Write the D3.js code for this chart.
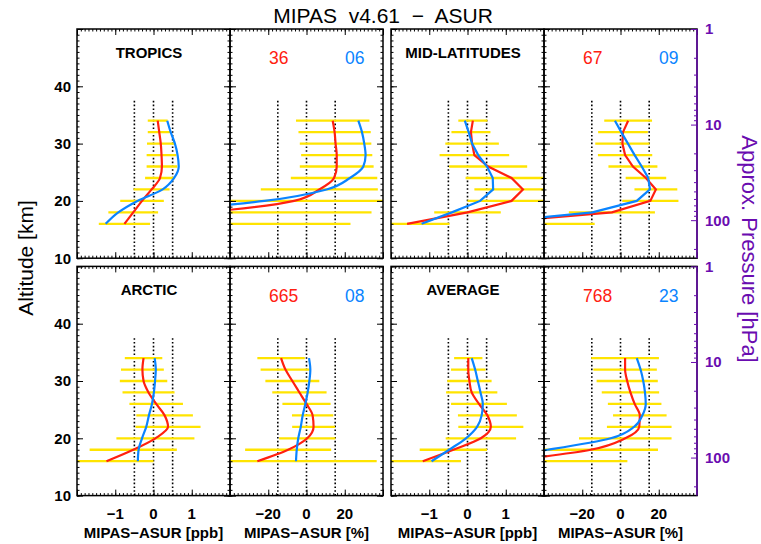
<!DOCTYPE html>
<html>
<head>
<meta charset="utf-8">
<script src="https://cdn.jsdelivr.net/npm/d3@7"></script>
<style>
body { margin: 0; background: #fff; }
svg { font-family: "Liberation Sans", Arial, sans-serif; }
</style>
</head>
<body>
<svg id="chart" width="761" height="544"></svg>
<script>
// altitude levels of the comparison (km)
var altitudes = [16, 18, 20, 22, 24, 26, 28, 30, 32, 34];
var regions = ["TROPICS", "MID-LATITUDES", "ARCTIC", "AVERAGE"];
var countsRed = ["36", "67", "665", "768"];
var countsBlue = ["06", "09", "08", "23"];

// MIPAS - ASUR, absolute [ppb]
var tropicsPpbRed  = [-0.76, -0.53, -0.30, -0.05, 0.17, 0.22, 0.21, 0.19, 0.15, 0.11];
var tropicsPpbStd  = [0.67, 0.65, 0.57, 0.47, 0.39, 0.40, 0.39, 0.36, 0.30, 0.26];
var tropicsPpbBlue = [-1.25, -0.92, -0.42, 0.24, 0.54, 0.66, 0.63, 0.56, 0.45, 0.36];
var midlatPpbRed   = [-1.58, 0.0, 1.15, 1.45, 1.15, 0.54, 0.18, 0.12, 0.09, 0.14];
var midlatPpbStd   = [1.11, 0.87, 1.15, 1.27, 1.20, 1.02, 0.91, 0.70, 0.51, 0.38];
var midlatPpbBlue  = [-1.20, -0.41, 0.33, 0.67, 0.66, 0.51, 0.28, 0.12, 0.03, -0.07];
var arcticPpbRed   = [-1.23, -0.53, 0.05, 0.38, 0.29, 0.07, -0.13, -0.26, -0.29, -0.26];
var arcticPpbStd   = [1.23, 1.14, 1.02, 0.85, 0.74, 0.70, 0.68, 0.62, 0.56, 0.49];
var arcticPpbBlue  = [-0.41, -0.39, -0.30, -0.19, -0.12, -0.04, 0.01, 0.04, 0.06, 0.03];
var averagePpbRed  = [-1.17, -0.37, 0.35, 0.61, 0.52, 0.30, 0.11, 0.05, 0.02, 0.02];
var averagePpbStd  = [1.00, 0.88, 0.92, 0.85, 0.77, 0.73, 0.67, 0.58, 0.45, 0.37];
var averagePpbBlue = [-0.94, -0.48, -0.04, 0.25, 0.37, 0.40, 0.34, 0.27, 0.20, 0.11];

// MIPAS - ASUR, relative [%]
var tropicsPctRed  = [-150, -55, -6.5, 6.7, 14.4, 15.8, 15.8, 15.2, 14.7, 13.7];
var tropicsPctStd  = [173, 89, 50, 30.6, 22.6, 19.3, 18.6, 18.7, 18.9, 19.2];
var tropicsPctBlue = [-200, -90, -22, 10.5, 22.7, 29.7, 30.9, 30.2, 29.0, 27.1];
var midlatPctRed   = [-75, -4.5, 15.6, 18.5, 13.3, 6.5, 2.4, 1.0, 1.3, 4.0];
var midlatPctStd   = [61.5, 22.5, 14.7, 11.2, 10.6, 12.8, 14.2, 14.2, 13.0, 12.5];
var midlatPctBlue  = [-75, -14.7, 8.5, 15.4, 14.5, 11.1, 7.4, 3.9, 0.4, -2.9];
var arcticPctRed   = [-25.7, -9.6, 0.4, 3.7, 3.2, 0.0, -3.7, -7.4, -11.0, -13.3];
var arcticPctStd   = [62.4, 22.5, 14.7, 11.2, 10.8, 12.6, 14.2, 14.1, 13.0, 12.4];
var arcticPctBlue  = [-5.5, -5.1, -4.3, -3.0, -2.0, -0.6, 0.6, 1.5, 2.0, 1.3];
var averagePctRed  = [-60, -15.6, 2.5, 9.8, 10.1, 7.4, 5.2, 3.5, 2.4, 2.4];
var averagePctStd  = [63.6, 35.2, 24.2, 16.9, 14.0, 14.0, 15.0, 16.0, 16.6, 17.7];
var averagePctBlue = [-80, -38, -5.1, 7.1, 11.4, 13.2, 12.8, 11.9, 10.5, 8.5];

var ppbTicks = [-1, 0, 1];
var pctTicks = [-20, 0, 20];
var altTicks = [10, 20, 30, 40];
var pressTicks = [1, 10, 100];

var profiles = [
    { ppb: [tropicsPpbRed, tropicsPpbStd, tropicsPpbBlue], pct: [tropicsPctRed, tropicsPctStd, tropicsPctBlue], curve: d3.curveMonotoneY },
    { ppb: [midlatPpbRed, midlatPpbStd, midlatPpbBlue], pct: [midlatPctRed, midlatPctStd, midlatPctBlue], curve: d3.curveLinear },
    { ppb: [arcticPpbRed, arcticPpbStd, arcticPpbBlue], pct: [arcticPctRed, arcticPctStd, arcticPctBlue], curve: d3.curveMonotoneY },
    { ppb: [averagePpbRed, averagePpbStd, averagePpbBlue], pct: [averagePctRed, averagePctStd, averagePctBlue], curve: d3.curveMonotoneY }
];

var svg = d3.select("#chart");
var panelW = 153, panelH = 229.2;
var rowTop = [29, 266.4], colLeft = [77, 391];
var RED = "#ff2010", BLUE = "#0a84ff", YELLOW = "#ffe400", PURPLE = "#6a0cb0";

function fmt(d) { return d < 0 ? "\u2212" + Math.abs(d) : "" + d; }

function ticks(axisFn, scale, vals, size, tr, color) {
    var a = svg.append("g").attr("transform", tr).call(axisFn(scale).tickValues(vals).tickSize(size).tickFormat(""));
    a.select(".domain").remove(); a.selectAll("text").remove();
    a.selectAll("line").attr("stroke", color || "#000").attr("stroke-width", 1);
}

function drawPanel(id, x, y, series, refs, curve, minorStep, majorStep) {
    var x0 = x.range()[0], x1 = x.range()[1], yb = y.range()[0], yt = y.range()[1];
    var red = series[0], std = series[1], blue = series[2];
    svg.append("clipPath").attr("id", "clip" + id).append("rect")
        .attr("x", x0).attr("y", yt).attr("width", x1 - x0).attr("height", yb - yt);
    var g = svg.append("g").attr("clip-path", "url(#clip" + id + ")");

    g.selectAll(".ref").data(refs).join("line").attr("class", "ref")
        .attr("x1", d => x(d)).attr("x2", d => x(d)).attr("y1", y(10)).attr("y2", y(37.5))
        .attr("stroke", "#000").attr("stroke-width", 1.6).attr("stroke-dasharray", "1.6,2.2");

    g.selectAll(".err").data(altitudes).join("line").attr("class", "err")
        .attr("x1", (d, i) => x(red[i] - std[i])).attr("x2", (d, i) => x(red[i] + std[i]))
        .attr("y1", d => y(d)).attr("y2", d => y(d))
        .attr("stroke", YELLOW).attr("stroke-width", 2.3);

    var line = d3.line().x(d => x(d[1])).y(d => y(d[0])).curve(curve);
    var pts = v => altitudes.map((a, i) => [a, v[i]]).reverse();
    g.append("path").attr("d", line(pts(red))).attr("fill", "none").attr("stroke", RED).attr("stroke-width", 2.2);
    g.append("path").attr("d", line(pts(blue))).attr("fill", "none").attr("stroke", BLUE).attr("stroke-width", 2.2);

    // ticks, all pointing inwards
    var dom = x.domain();
    var major = d3.range(dom[0], dom[1] + 1e-9, majorStep);
    var minor = d3.range(dom[0], dom[1] + 1e-9, minorStep);
    ticks(d3.axisBottom, x, minor, -2.5, "translate(0," + yb + ")");
    ticks(d3.axisBottom, x, major, -6, "translate(0," + yb + ")");
    ticks(d3.axisTop, x, minor, -2.5, "translate(0," + yt + ")");
    ticks(d3.axisTop, x, major, -6, "translate(0," + yt + ")");
    ticks(d3.axisLeft, y, d3.range(10, 51, 1), -2.5, "translate(" + x0 + ",0)");
    ticks(d3.axisLeft, y, d3.range(10, 51, 10), -6, "translate(" + x0 + ",0)");
    if (id % 4 !== 3) {
        ticks(d3.axisRight, y, d3.range(10, 51, 1), -2.5, "translate(" + x1 + ",0)");
        ticks(d3.axisRight, y, d3.range(10, 51, 10), -6, "translate(" + x1 + ",0)");
    }

    svg.append("rect").attr("x", x0).attr("y", yt).attr("width", x1 - x0).attr("height", yb - yt)
        .attr("fill", "none").attr("stroke", "#000").attr("stroke-width", 1.5);
}

regions.forEach(function (name, i) {
    var row = Math.floor(i / 2), col = i % 2;
    var top = rowTop[row], left = colLeft[col];
    var y = d3.scaleLinear().domain([10, 50]).range([top + panelH, top]);
    var xPpb = d3.scaleLinear().domain([-2, 2]).range([left, left + panelW]);
    var xPct = d3.scaleLinear().domain([-40, 40]).range([left + panelW, left + 2 * panelW]);
    var p = profiles[i];

    drawPanel(i * 2, xPpb, y, p.ppb, [-0.5, 0, 0.5], p.curve, 0.1, 1);
    drawPanel(i * 2 + 1, xPct, y, p.pct, [-15, 0, 15], p.curve, 2, 20);

    svg.append("text").attr("x", left + 72).attr("y", top + 28.8).attr("text-anchor", "middle")
        .attr("font-size", 15).attr("font-weight", "bold").text(name);
    svg.append("text").attr("x", left + panelW + 39).attr("y", top + 35.2)
        .attr("font-size", 17.5).attr("fill", RED).text(countsRed[i]);
    svg.append("text").attr("x", left + panelW + 115).attr("y", top + 35.2)
        .attr("font-size", 17.5).attr("fill", BLUE).text(countsBlue[i]);

    if (col === 0) {
        svg.append("g").selectAll("text").data(altTicks).join("text")
            .attr("x", left - 6).attr("y", d => y(d)).attr("dy", "0.36em").attr("text-anchor", "end")
            .attr("font-size", 15).attr("font-weight", "bold").text(d => d);
    } else {
        var p2 = d3.scaleLog().domain([1, 250]).range([top, top + panelH]);
        var xr = left + 2 * panelW;
        var minorP = [2, 3, 4, 5, 6, 7, 8, 9, 20, 30, 40, 50, 60, 70, 80, 90, 200];
        ticks(d3.axisRight, p2, minorP, -3, "translate(" + xr + ",0)", PURPLE);
        ticks(d3.axisRight, p2, pressTicks, -6, "translate(" + xr + ",0)", PURPLE);
        svg.append("line").attr("x1", xr).attr("x2", xr).attr("y1", top).attr("y2", top + panelH)
            .attr("stroke", PURPLE).attr("stroke-width", 1.5);
        svg.append("g").selectAll("text").data(pressTicks).join("text")
            .attr("x", xr + 8).attr("y", d => p2(d)).attr("dy", "0.36em")
            .attr("font-size", 15).attr("font-weight", "bold").attr("fill", PURPLE).text(d => d);
    }

    if (row === 1) {
        svg.append("g").selectAll("text").data(ppbTicks).join("text")
            .attr("x", d => xPpb(d)).attr("y", 519).attr("text-anchor", "middle")
            .attr("font-size", 15).attr("font-weight", "bold").text(fmt);
        svg.append("g").selectAll("text").data(pctTicks).join("text")
            .attr("x", d => xPct(d)).attr("y", 519).attr("text-anchor", "middle")
            .attr("font-size", 15).attr("font-weight", "bold").text(fmt);
        svg.append("text").attr("x", left + panelW / 2).attr("y", 538).attr("text-anchor", "middle")
            .attr("font-size", 15).attr("font-weight", "bold").text("MIPAS\u2212ASUR [ppb]");
        svg.append("text").attr("x", left + panelW * 1.5).attr("y", 538).attr("text-anchor", "middle")
            .attr("font-size", 15).attr("font-weight", "bold").text("MIPAS\u2212ASUR [%]");
    }
});

svg.append("text").attr("x", 383).attr("y", 23).attr("text-anchor", "middle")
    .attr("font-size", 21).style("white-space", "pre").text("MIPAS  v4.61  \u2212  ASUR");
svg.append("text").attr("transform", "translate(33,258) rotate(-90)").attr("text-anchor", "middle")
    .attr("font-size", 21).text("Altitude [km]");
svg.append("text").attr("transform", "translate(742,249) rotate(90)").attr("text-anchor", "middle")
    .attr("font-size", 22).attr("fill", PURPLE).text("Approx. Pressure [hPa]");
</script>
</body>
</html>
